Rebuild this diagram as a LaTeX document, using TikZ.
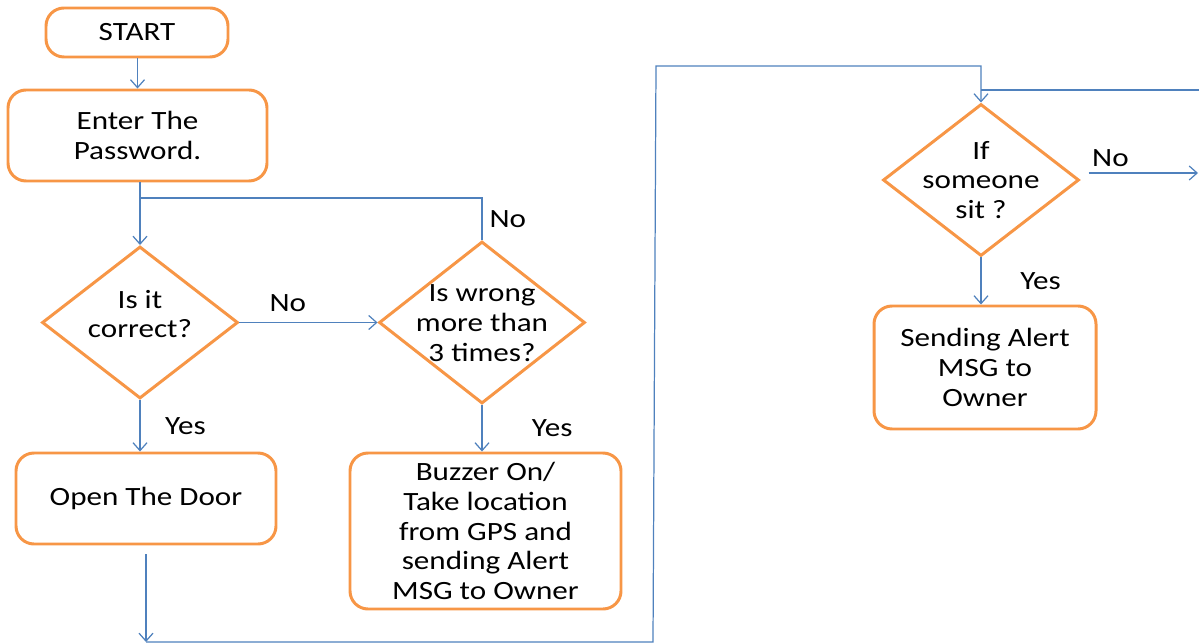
\documentclass[tikz,border=0pt]{standalone}
\usepackage{fontspec}
\setmainfont[FakeStretch=1.18]{Carlito}
\usetikzlibrary{shapes.geometric, arrows.meta, positioning}
\definecolor{boxorange}{HTML}{F79646}
\definecolor{lineblue}{HTML}{4F81BD}
\newcommand{\flowfont}{\fontsize{15pt}{17pt}\selectfont}
\tikzset{
	box/.style={draw=boxorange, line width=1.7pt, rounded corners=0.36cm, fill=white, align=center, font=\flowfont, inner sep=0pt},
	decision/.style={draw=boxorange, line width=1.7pt, diamond, inner sep=0pt, fill=white},
	txt/.style={align=center, font=\flowfont, inner sep=0pt},
	flow/.style={draw=lineblue, line width=0.7pt, -{Straight Barb[length=4.5pt,width=8pt]}},
	link/.style={draw=lineblue, line width=0.7pt},
}
\begin{document}
\begin{tikzpicture}
				\useasboundingbox (0,0) rectangle (23.98,-12.88);
				% Password part
				\node[box, minimum width=3.64cm, minimum height=0.98cm] (start) at (2.74,-0.65) {START};
				\node[box, minimum width=5.18cm, minimum height=1.82cm] (enter) at (2.75,-2.71) {Enter The\\Password.};
				\node[decision, minimum width=3.92cm, minimum height=3.04cm] (correct) at (2.80,-6.45) {};
				\node[txt] (correctT) at (2.80,-6.28) {Is it\\correct?};
				\node[decision, minimum width=4.12cm, minimum height=3.24cm] (wrong) at (9.64,-6.45) {};
				\node[txt] (wrongT) at (9.64,-6.46) {Is wrong\\more than\\3 times?};
				\node[box, minimum width=5.20cm, minimum height=1.82cm] (door) at (2.92,-9.97) {Open The Door};
				\node[box, minimum width=5.42cm, minimum height=3.12cm] (buzzer) at (9.71,-10.62) {Buzzer On/\\Take location\\from GPS and\\sending Alert\\MSG to Owner};
				% Seat part
				\node[decision, minimum width=3.92cm, minimum height=3.04cm] (sit) at (19.62,-3.60) {};
				\node[txt] (sitT) at (19.62,-3.60) {If\\someone\\sit ?};
				\node[box, minimum width=4.44cm, minimum height=2.46cm] (alert) at (19.70,-7.35) {Sending Alert\\MSG to\\Owner};
				% Connectors
				\coordinate (jn) at (2.80,-3.96);
				\coordinate (dn) at (2.92,-12.84);
				\coordinate (bl) at (13.06,-12.84);
				\coordinate (tl) at (13.12,-1.32);
				\coordinate (tr) at (19.62,-1.32);
				\coordinate (br) at (19.62,-1.80);
				\coordinate (edgeR) at (23.98,-1.80);
				\coordinate (noR) at (23.96,-3.46);
				\draw[flow] (start.south -| enter.north) -- (enter.north);
				\draw[flow] (enter.south -| correct.north) -- (correct.north);
				\draw[link] (jn) -| (wrong.north) node[pos=0.75, right=4pt, txt] (no2) {No};
				\draw[flow] (correct.east) -- (correct.east -| wrong.west) node[pos=0.35, above=6pt, txt] (no1) {No};
				\draw[flow] (correct.south) -- (correct.south |- door.north) node[midway, right=14pt, txt] (yes1) {Yes};
				\draw[flow] (wrong.south) -- (wrong.south |- buzzer.north) node[midway, right=28pt, txt] (yes2) {Yes};
				\draw[flow] ([yshift=-0.18cm]door.south) -- (dn);
				\draw[flow] (dn) -- (bl) -- (tl) -- (tr) -- (sit.north);
				\draw[link] (br) -- (edgeR);
				\draw[flow] ([xshift=0.16cm]sit.east |- noR) -- (noR) node[pos=0.2, above=3pt, txt] (no3) {No};
				\draw[flow] (sit.south) -- (sit.south |- alert.north) node[midway, right=22pt, txt] (yes3) {Yes};
\end{tikzpicture}
\end{document}
